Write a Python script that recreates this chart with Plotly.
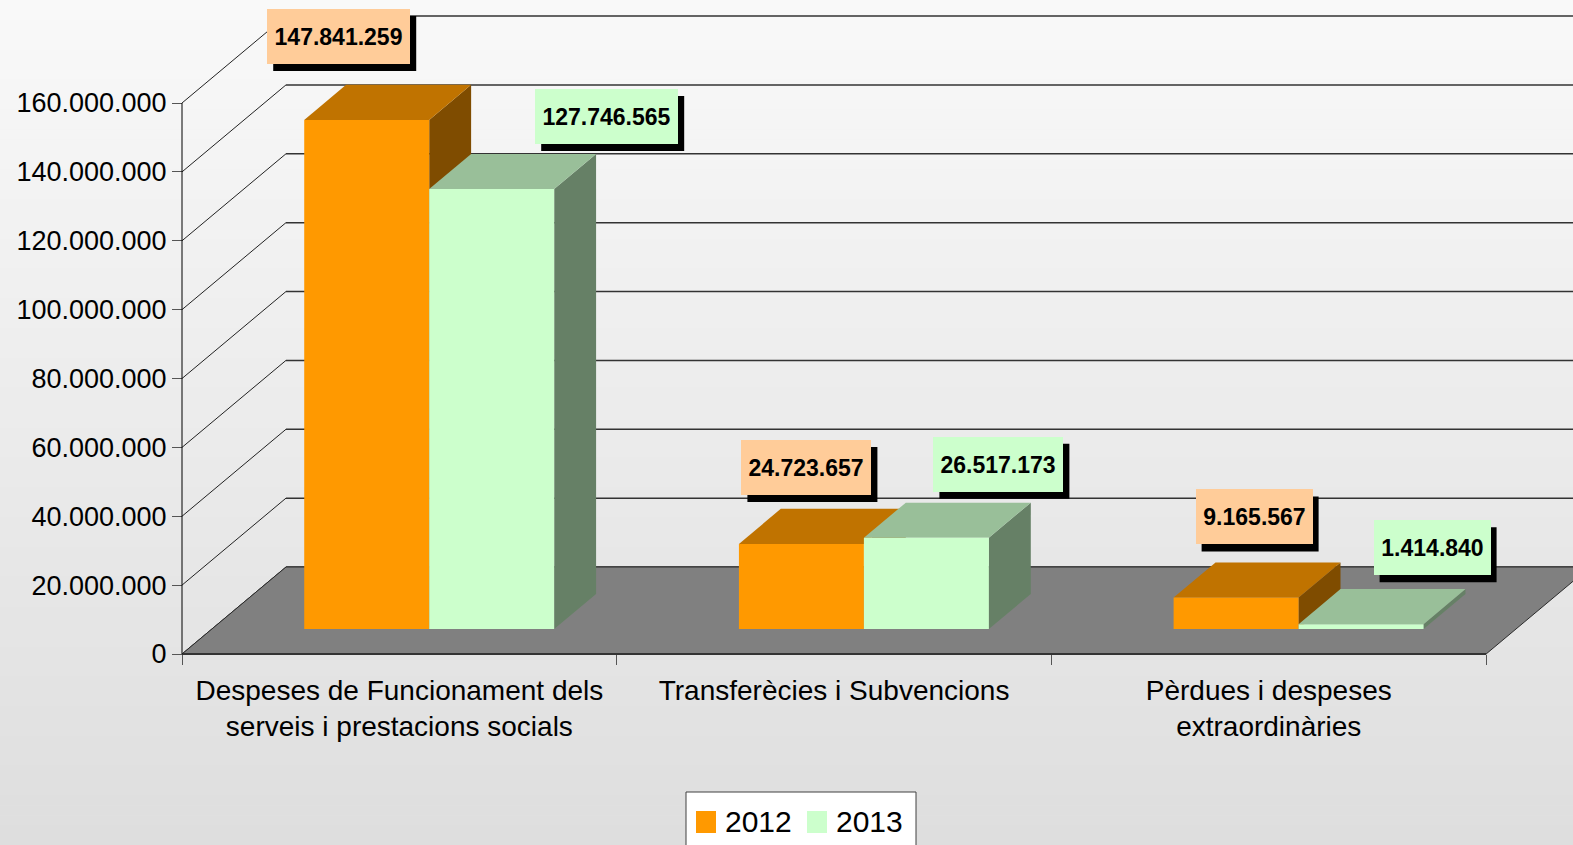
import plotly.graph_objects as go

# ---------------- data ----------------
categories = ["Despeses de Funcionament dels<br>serveis i prestacions socials",
              "Transferècies i Subvencions",
              "Pèrdues i despeses<br>extraordinàries"]
series_names = ["2012", "2013"]
values_2012 = [147841259, 24723657, 9165567]
values_2013 = [127746565, 26517173, 1414840]
y_tick_values = [0, 20000000, 40000000, 60000000, 80000000,
                 100000000, 120000000, 140000000, 160000000]

# ---------------- style / geometry ----------------
W, H = 1573, 845
ML, MR, MT, MB = 120, 0, 0, 150
PLOT_W = W - ML - MR
PLOT_H = H - MT - MB
AXIS_PX_X, AXIS_PX_Y = 182, 654          # pixel position of the front-left origin
PX_PER_CAT = 434.7
PX_PER_VAL = 551 / 160e6
DX = 104 / PX_PER_CAT                    # full depth, x (category units)
DY = 87 / PX_PER_VAL                     # full depth, y (value units)
D0, D1 = 0.287, 0.69                     # bar front/back depth fractions
GAP, BAR_W = 0.2125, 0.2875              # in category units

x_range = [(ML - AXIS_PX_X) / PX_PER_CAT, (W - MR - AXIS_PX_X) / PX_PER_CAT]
y_range = [-(H - MB - AXIS_PX_Y) / PX_PER_VAL, (AXIS_PX_Y - MT) / PX_PER_VAL]

FRONT = ["#FF9900", "#CCFFCC"]
TOP = ["#C07300", "#99BF99"]
SIDE = ["#7F4C00", "#668066"]
LABEL_BG = ["#FFCC99", "#CCFFCC"]
label_offsets = [[(-28, 56), (5, 49), (18, 53)],      # 2012
                 [(115, 45), (72, 46), (71, 49)]]     # 2013
LABEL_H = 55
SHADOW = (6, 7)
FONT = "Liberation Sans, Arial, sans-serif"


def P(x, v, d):
    return (x + d * DX, v + d * DY)


def path(pts):
    return "M " + " L ".join(f"{x},{y}" for x, y in pts) + " Z"


def px_to_paper_x(px):
    return (px - ML) / PLOT_W


def px_to_paper_y(py):
    return (H - MB - py) / PLOT_H


def fmt(v):
    return f"{v:,}".replace(",", ".")


shapes = []
# background gradient
N = 85
top_c, bot_c = 249, 222
for i in range(N):
    y0 = i * H / N
    y1 = (i + 1) * H / N + 0.6
    c = round(top_c + (bot_c - top_c) * (i + 0.5) / N)
    shapes.append(dict(type="rect", xref="paper", yref="paper", layer="below",
                       x0=px_to_paper_x(-5), x1=px_to_paper_x(W + 5),
                       y0=px_to_paper_y(y0), y1=px_to_paper_y(y1),
                       fillcolor=f"rgb({c},{c},{c})", line=dict(width=0)))

# back wall gridlines and left wall diagonals
for v in y_tick_values:
    bx, by = P(0, v, 1)
    shapes.append(dict(type="line", xref="x", yref="y", x0=bx, y0=by, x1=x_range[1], y1=by,
                       line=dict(color="#333333", width=1.5)))
    fx, fy = P(0, v, 0)
    shapes.append(dict(type="line", xref="x", yref="y", x0=fx, y0=fy, x1=bx, y1=by,
                       line=dict(color="#222222", width=1)))

# floor
n_cat = len(categories)
floor = [P(0, 0, 0), P(n_cat, 0, 0), P(n_cat, 0, 1), P(0, 0, 1)]
shapes.append(dict(type="path", xref="x", yref="y", path=path(floor),
                   fillcolor="#808080", line=dict(color="#2a2a2a", width=1)))
shapes.append(dict(type="line", xref="x", yref="y", x0=0, y0=0, x1=n_cat, y1=0,
                   line=dict(color="#333333", width=2)))

# y axis line (front plane)
shapes.append(dict(type="line", xref="x", yref="y", x0=0, y0=0, x1=0, y1=y_tick_values[-1],
                   line=dict(color="#000000", width=1)))

annotations = []
series_values = [values_2012, values_2013]
for ci in range(n_cat):
    for si, vals in enumerate(series_values):
        v = vals[ci]
        x0 = ci + GAP + si * BAR_W
        x1 = x0 + BAR_W
        front = [P(x0, 0, D0), P(x1, 0, D0), P(x1, v, D0), P(x0, v, D0)]
        top = [P(x0, v, D0), P(x1, v, D0), P(x1, v, D1), P(x0, v, D1)]
        side = [P(x1, 0, D0), P(x1, v, D0), P(x1, v, D1), P(x1, 0, D1)]
        for pts, col in ((side, SIDE[si]), (top, TOP[si]), (front, FRONT[si])):
            shapes.append(dict(type="path", xref="x", yref="y", path=path(pts),
                               fillcolor=col, line=dict(width=0)))

# value labels (drop shadow as pixel-sized shape, label as annotation)
for ci in range(n_cat):
    for si, vals in enumerate(series_values):
        v = vals[ci]
        x0 = ci + GAP + si * BAR_W
        x1 = x0 + BAR_W
        txt = fmt(v)
        digits = sum(ch.isdigit() for ch in txt)
        bw = 13 * digits + 26
        ax, ay = P((x0 + x1) / 2, v, D0)
        ox, oy = label_offsets[si][ci]
        shapes.append(dict(type="rect", xref="x", yref="y",
                           xsizemode="pixel", ysizemode="pixel", xanchor=ax, yanchor=ay,
                           x0=ox - bw / 2 + SHADOW[0], x1=ox + bw / 2 + SHADOW[0],
                           y0=oy - SHADOW[1], y1=oy + LABEL_H - SHADOW[1],
                           fillcolor="#000000", line=dict(width=0)))
        annotations.append(dict(
            x=ax, y=ay, xref="x", yref="y", xanchor="center", yanchor="bottom",
            xshift=ox, yshift=oy,
            text=f"<b>{txt}</b>", showarrow=False, width=bw, height=LABEL_H,
            align="center", valign="middle", borderpad=0, borderwidth=0,
            bgcolor=LABEL_BG[si],
            font=dict(family=FONT, size=23, color="#000000")))

# legend (drawn)
shapes.append(dict(type="rect", xref="paper", yref="paper",
                   x0=px_to_paper_x(686), x1=px_to_paper_x(916),
                   y0=px_to_paper_y(792), y1=px_to_paper_y(850),
                   fillcolor="#FFFFFF", line=dict(color="#404040", width=1)))
legend_px = [(696, 725), (807, 836)]
for si, name in enumerate(series_names):
    sx, tx = legend_px[si]
    shapes.append(dict(type="rect", xref="paper", yref="paper",
                       x0=px_to_paper_x(sx), x1=px_to_paper_x(sx + 20),
                       y0=px_to_paper_y(811), y1=px_to_paper_y(833),
                       fillcolor=FRONT[si], line=dict(width=0)))
    annotations.append(dict(x=px_to_paper_x(tx - 2), y=px_to_paper_y(821), xref="paper", yref="paper",
                            xanchor="left", yanchor="middle", text=name, showarrow=False,
                            font=dict(family=FONT, size=30, color="#000000")))

fig = go.Figure()
fig.add_trace(go.Scatter(x=[None], y=[None], showlegend=False, hoverinfo="skip"))
fig.update_layout(
    width=W, height=H,
    margin=dict(l=ML, r=MR, t=MT, b=MB, pad=0),
    paper_bgcolor="#EEEEEE", plot_bgcolor="rgba(0,0,0,0)",
    separators=",.",
    showlegend=False,
    shapes=shapes, annotations=annotations,
    xaxis=dict(range=x_range, anchor="free", position=px_to_paper_y(AXIS_PX_Y),
               showgrid=False, zeroline=False, showline=False,
               tickmode="array", tickvals=[i + 0.5 for i in range(n_cat)], ticktext=categories,
               ticks="", ticklabelstandoff=17,
               tickfont=dict(family=FONT, size=28, color="#000000"),
               minor=dict(tickmode="array", tickvals=list(range(n_cat + 1)), ticks="outside",
                          ticklen=10, tickcolor="#555555", tickwidth=1, showgrid=False)),
    yaxis=dict(range=y_range, anchor="free", position=px_to_paper_x(AXIS_PX_X),
               showgrid=False, zeroline=False, showline=False,
               tickmode="array", tickvals=y_tick_values, tickformat=",.0f",
               ticks="outside", ticklen=10, tickcolor="#555555", tickwidth=1,
               tickfont=dict(family=FONT, size=27, color="#000000")),
)
fig.write_html("out.html", config={"displayModeBar": False, "staticPlot": True},
               post_script="document.body.style.margin='0px';document.body.style.overflow='hidden';")
